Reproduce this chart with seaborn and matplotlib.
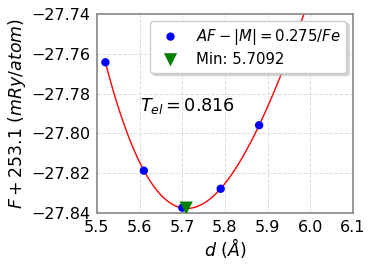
import numpy as np
import pandas as pd
import matplotlib
matplotlib.use("Agg")
import matplotlib.pyplot as plt
import seaborn as sns
from matplotlib.ticker import AutoMinorLocator

# lattice parameter d (A) and energy F + 253.1 (mRy/atom)
d_vals = [5.52, 5.61, 5.70, 5.79, 5.88]
energy = [-27.7643, -27.8187, -27.8373, -27.8278, -27.7959]
d_min = 5.7092
e_min = -27.8375
t_el = 0.816

df = pd.DataFrame({'d': d_vals, 'E': energy})

sns.set_style('white')
plt.rcParams['font.family'] = ['DejaVu Sans']
plt.rcParams['mathtext.fontset'] = 'dejavusans'
plt.rcParams['text.color'] = 'black'
plt.rcParams['axes.labelcolor'] = 'black'
plt.rcParams['xtick.color'] = 'black'
plt.rcParams['ytick.color'] = 'black'

fig = plt.figure(figsize=(3.74, 2.67), dpi=100)
ax = fig.add_axes([0.259, 0.202, 0.685, 0.746])

# cubic fit drawn by seaborn, spanning from the first point to the right
ax.set_xlim(df['d'].min(), 6.0)
sns.regplot(x='d', y='E', data=df, order=3, ci=None, scatter=False,
            truncate=False, line_kws={'color': 'red', 'lw': 1.0}, ax=ax)

sns.scatterplot(x='d', y='E', data=df, color='blue', s=36, edgecolor='none',
                label=r'$AF-|M|=0.275/Fe$', ax=ax, zorder=3)
sns.scatterplot(x=[d_min], y=[e_min], color='green', marker='v', s=90,
                edgecolor='none', label='Min: %.4f' % d_min, ax=ax, zorder=4)

ax.text(5.6, -27.786, r'$T_{el} = %.3f$' % t_el, fontsize=12.7, va='center')

ax.set_xlim(5.5, 6.1)
ax.set_ylim(-27.84, -27.74)
ax.set_xticks(np.arange(5.5, 6.11, 0.1))
ax.set_yticks(np.arange(-27.84, -27.739, 0.02))
ax.xaxis.set_minor_locator(AutoMinorLocator(4))
ax.yaxis.set_minor_locator(AutoMinorLocator(4))
ax.tick_params(which='major', direction='out', length=4, width=1, color='#555555', labelsize=11.5, pad=1)
ax.tick_params(which='minor', direction='out', length=2, width=0.8, color='#777777')
ax.grid(True, which='major', linestyle='--', color='#dddddd', lw=0.7)
for s in ax.spines.values():
    s.set_color('#888888')
    s.set_linewidth(1.2)

ax.set_xlabel(r'$d\ (\AA)$', fontsize=12.5, labelpad=1)
ax.set_ylabel(r'$F + 253.1\ (mRy/atom)$', fontsize=12.5, labelpad=2)

ax.legend(loc='upper right', fontsize=10.7, frameon=True,
          shadow={'color': '0.75', 'alpha': 0.6},
          handlelength=2.0, handletextpad=0.7, borderpad=0.4, labelspacing=0.35,
          bbox_to_anchor=(1.0, 1.0), borderaxespad=0.45)

fig.savefig('out.png', dpi=100)
